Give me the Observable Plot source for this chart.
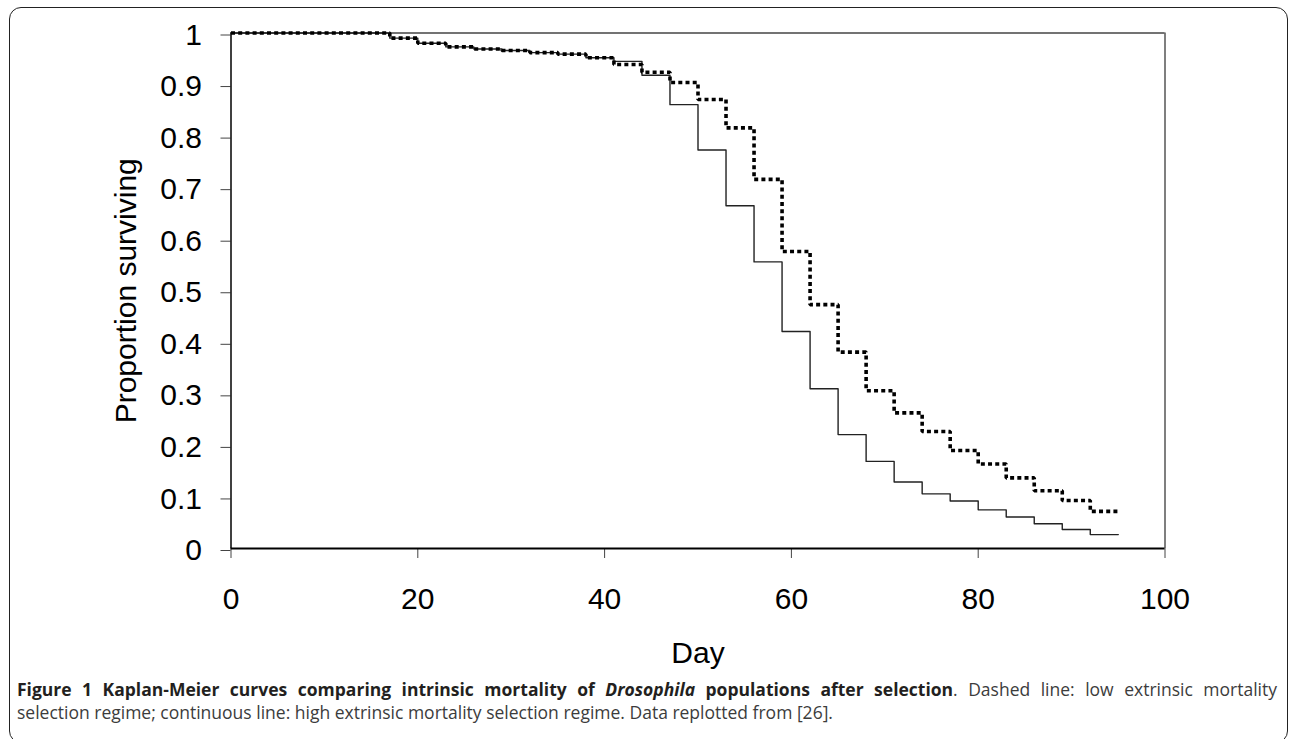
<!DOCTYPE html>
<html>
<head>
<meta charset="utf-8">
<script src="https://cdn.jsdelivr.net/npm/d3@7"></script>
<script src="https://cdn.jsdelivr.net/npm/@observablehq/plot@0.6"></script>
<style>
  html, body { margin: 0; padding: 0; background: #fff; }
  #wrap { position: relative; width: 1290px; height: 739px; overflow: hidden; }
  #box { position: absolute; left: 9px; top: 7px; width: 1279px; height: 736px;
         border: 1.5px solid #222; border-radius: 12px; box-sizing: border-box; }
  #chart { position: absolute; left: 0; top: 0; }
  #caption { position: absolute; left: 17px; top: 678px; width: 1260px;
             font-family: "Open Sans", sans-serif; font-size: 17.5px; line-height: 23px; color: #3c3c3c; }
  #caption .l1 { white-space: nowrap; }
  #caption .l2 { white-space: nowrap; }
  #caption b { color: #231f20; font-weight: 700; }
</style>
</head>
<body>
<div id="wrap">
  <div id="box"></div>
  <div id="chart"></div>
  <div id="caption">
    <div class="l1"><span id="l1"><b>Figure 1 Kaplan-Meier curves comparing intrinsic mortality of <i>Drosophila</i> populations after selection</b>. Dashed line: low extrinsic mortality</span></div>
    <div class="l2">selection regime; continuous line: high extrinsic mortality selection regime. Data replotted from [26].</div>
  </div>
</div>
<script>
// Step start days (Kaplan-Meier steps)
const days = [0, 17, 20, 23, 26, 29, 32, 35, 38, 41, 44, 47, 50, 53, 56, 59, 62, 65, 68, 71, 74, 77, 80, 83, 86, 89, 92, 95];
// Dashed line: low extrinsic mortality selection regime
const lowExtrinsic = [1.0, 0.990, 0.980, 0.973, 0.969, 0.966, 0.962, 0.959, 0.952, 0.939, 0.924, 0.904, 0.871, 0.816, 0.716, 0.576, 0.473, 0.381, 0.306, 0.263, 0.227, 0.190, 0.164, 0.137, 0.112, 0.093, 0.072, 0.072];
// Continuous line: high extrinsic mortality selection regime
const highExtrinsic = [1.0, 0.990, 0.980, 0.973, 0.969, 0.966, 0.962, 0.959, 0.952, 0.945, 0.918, 0.861, 0.773, 0.665, 0.556, 0.421, 0.310, 0.221, 0.169, 0.129, 0.106, 0.092, 0.075, 0.061, 0.048, 0.037, 0.027, 0.027];
const xTicks = [0, 20, 40, 60, 80, 100];
const yTicks = [0, 0.1, 0.2, 0.3, 0.4, 0.5, 0.6, 0.7, 0.8, 0.9, 1];

const low = days.map((d, i) => ({day: d, p: lowExtrinsic[i]}));
const high = days.map((d, i) => ({day: d, p: highExtrinsic[i]}));

const chart = Plot.plot({
  width: 1290,
  height: 680,
  marginLeft: 230.5,
  marginRight: 125.5,
  marginTop: 32.5,
  marginBottom: 132,
  x: {domain: [0, 100]},
  y: {domain: [0, 1]},
  style: {fontFamily: "'Liberation Sans', Arial, sans-serif", background: "transparent", color: "#000"},
  marks: [
    Plot.axisX({ticks: xTicks, tickSize: 10, tickPadding: 29, fontSize: 30, label: null, stroke: "#444", tickFormat: d => String(d)}),
    Plot.axisY({ticks: yTicks, tickSize: 10, tickPadding: 19, fontSize: 30, label: null, stroke: "#444", dy: 2,
                tickFormat: d => String(+d.toFixed(1))}),
    Plot.ruleY([1], {stroke: "#444", strokeWidth: 1.5}),
    Plot.ruleX([100], {stroke: "#555", strokeWidth: 1.5}),
    Plot.ruleX([0], {stroke: "#000", strokeWidth: 1.5}),
    Plot.line(high, {x: "day", y: "p", curve: "step-after", stroke: "#222", strokeWidth: 1.4}),
    Plot.line(low, {x: "day", y: "p", curve: "step-after", stroke: "#000", strokeWidth: 3.6,
                    strokeDasharray: "4,3.2", strokeLinecap: "butt", strokeLinejoin: "miter"}),
    Plot.ruleY([0], {stroke: "#000", strokeWidth: 2}),
    Plot.text(["Day"], {text: d => d, frameAnchor: "bottom", dy: 114, lineAnchor: "bottom", fontSize: 30, fill: "#000"}),
    Plot.text(["Proportion surviving"], {text: d => d, frameAnchor: "left", dx: -105, rotate: -90, textAnchor: "middle",
                                          lineAnchor: "middle", fontSize: 30, fill: "#000"})
  ]
});
document.getElementById("chart").appendChild(chart);

// justify first caption line to the full width
(function fit() {
  const span = document.getElementById("l1");
  const target = 1260;
  const text = span.textContent;
  const spaces = (text.match(/ /g) || []).length;
  let w = span.getBoundingClientRect().width;
  if (w > target) {
    span.style.letterSpacing = (-(w - target) / text.length) + "px";
    w = span.getBoundingClientRect().width;
  }
  if (w < target && spaces) span.style.wordSpacing = ((target - w) / spaces) + "px";
})();
</script>
</body>
</html>
